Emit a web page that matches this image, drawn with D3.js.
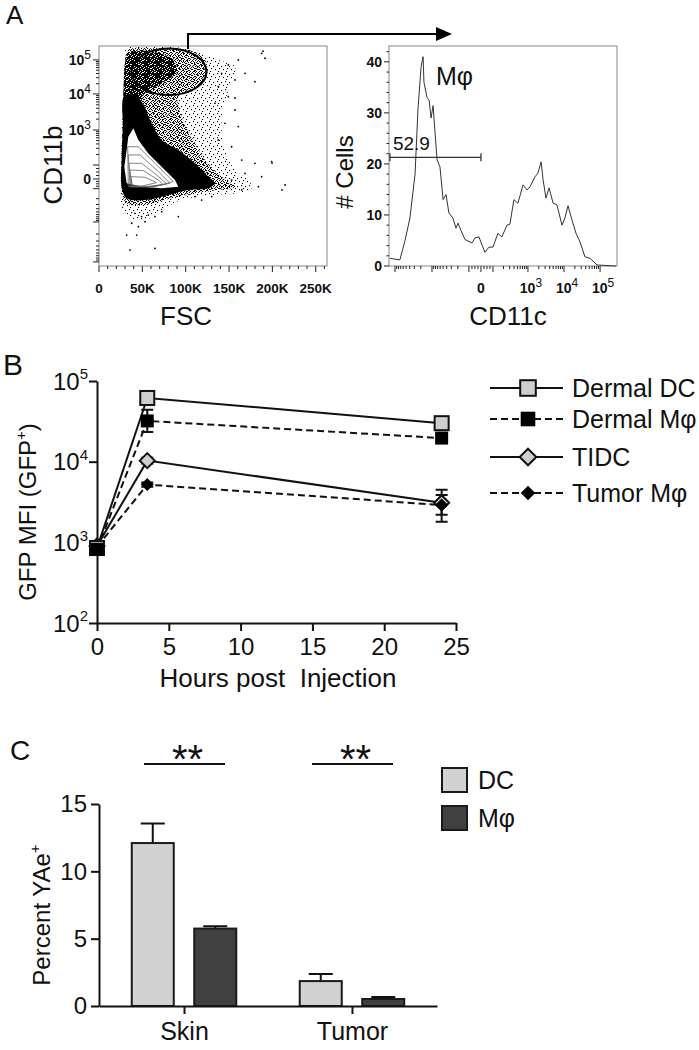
<!DOCTYPE html>
<html><head><meta charset="utf-8">
<script src="https://cdn.jsdelivr.net/npm/d3@7"></script>
<style>
body{margin:0;background:#fff}
svg{display:block}
text{font-family:"Liberation Sans",Arial,Helvetica,sans-serif;fill:#111}
</style>
</head><body>
<svg id="c" width="699" height="1050"></svg>
<script>
// ================= DATA =================
// Panel A (left): FSC (K) vs CD11b display channel (0-1024)
const fscTickValues = [0, 50, 100, 150, 200, 250];
const fscTickLabels = ["0", "50K", "100K", "150K", "200K", "250K"];
const cd11bDecades = [[-4, 19], [-3, 205], [-2, 360], [0, 405], [2, 470], [3, 633], [4, 801], [5, 959]];
const cd11bLabels = [{ch: 405, base: "0"}, {ch: 633, base: "10", exp: "3"}, {ch: 801, base: "10", exp: "4"}, {ch: 959, base: "10", exp: "5"}];
const scatterSparse = [[31.9,1013],[72.3,1021],[110.7,1005],[137.6,959],[156.9,928],[149.2,819],[141.5,695],[145.3,540],[156.9,447],[172.3,400],[176.1,362],[156.9,338],[130.0,331],[95.4,307],[72.3,261],[53.1,214],[33.8,230],[26.1,276],[24.2,400],[26.1,587],[28.1,819],[30.0,959]];
const scatterMedium = [[33.8,1005],[64.6,1013],[103.0,1005],[122.3,959],[124.2,881],[110.7,819],[91.5,788],[95.4,695],[106.9,602],[122.3,493],[141.5,416],[156.9,369],[137.6,354],[110.7,338],[83.8,315],[53.1,284],[31.9,292],[26.1,354],[26.1,509],[28.1,742],[30.0,928]];
const scatterDenseTop = [[33.8,990],[56.9,1000],[83.8,965],[90.0,905],[72.3,850],[52.0,800],[45.0,700],[36.0,640],[29.0,700],[28.5,850],[30.5,960]];
const scatterDense = [[29.0,790],[40.0,800],[50.0,760],[60.8,664],[72.3,587],[91.5,540],[110.7,478],[126.1,416],[133.8,385],[126.1,362],[103.0,354],[80.0,331],[53.1,307],[31.9,315],[26.1,369],[26.1,493],[27.5,649]];
const scatterHole = [[39.6,641],[45.4,587],[56.9,524],[72.3,462],[87.7,400],[91.5,369],[72.3,362],[49.2,369],[31.9,385],[29.2,462],[31.9,540],[33.8,602]];
const scatterContours = [
  [[33.1,555],[45.4,555],[64.6,478],[85.7,393],[64.6,369],[33.8,369]],
  [[33.8,517],[47.3,517],[66.5,447],[81.9,385],[60.8,369],[35.8,369]],
  [[34.6,478],[49.2,478],[66.5,424],[78.1,382],[56.9,369],[36.9,369]],
  [[35.8,447],[51.1,444],[68.4,400],[74.2,379],[53.1,369],[37.7,372]],
  [[36.9,416],[53.1,413],[66.5,388],[49.2,372],[38.5,376]]
];
const scatterOutliers = [[187.6,990],[191.5,967],[160.7,959],[149.2,936],[141.5,897],[156.9,866],[168.4,897],[179.9,858],[137.6,835],[149.2,788],[133.8,757],[156.9,726],[145.3,664],[160.7,649],[137.6,587],[153.0,555],[164.6,493],[179.9,478],[199.2,486],[187.6,416],[168.4,431],[153.0,400],[183.8,369],[164.6,354],[41.5,245],[49.2,230],[56.9,237],[64.6,230],[72.3,253],[91.5,230],[31.9,144],[43.5,144],[35.8,74],[64.6,82],[45.4,183],[53.1,206],[37.7,199],[110.7,323],[118.4,307],[130.0,323],[189.2,1000],[199.6,479],[214.6,377],[211.1,354],[156.9,782]];
const gateEllipse = {cx: 80.7, cy: 904, rx: 43.3, ry: 108.5};
const arrowFromFsc = 102.7;

// Panel A (right): CD11c histogram (channel 0-1024, count)
const histChannels = [4,49,72,94,117,130,144,153,157,171,180,189,198,207,216,229,243,256,269,287,301,310,323,341,373,386,404,418,431,449,467,489,507,530,543,561,579,602,620,633,656,669,683,692,705,719,737,754,777,790,804,822,840,858,880,903,934,1019];
const histCounts = [1.5,1.2,5,9.4,18,30.6,39,41,36,33,32.5,29,31.4,26,20.8,19.4,13,14,10.4,9.4,7.4,8.4,7,5.2,4.5,5.5,5.7,4.1,2.7,3.7,3.7,6.4,5.7,8,8.2,13,12.3,15.9,14.9,15.5,17.5,18.2,20.4,16.9,13.3,15.3,12.3,12,8,9.4,11.8,9,6.4,4.7,1.8,1.5,0.2,0];
const histYTicks = [0, 10, 20, 30, 40];
const cd11cDecades = [[-4, 27], [-3, 193], [-2, 359], [0, 413], [2, 467], [3, 624], [4, 786], [5, 948]];
const cd11cLabels = [{ch: 413, base: "0"}, {ch: 624, base: "10", exp: "3"}, {ch: 786, base: "10", exp: "4"}, {ch: 948, base: "10", exp: "5"}];
const histGate = {from: 4, to: 413, level: 21.3, label: "52.9"};

// Panel B: GFP MFI over time
const hours = [0, 3.5, 24];
const seriesNamesB = ["Dermal DC", "Dermal M\u03c6", "TIDC", "Tumor M\u03c6"];
const dermalDC = [850, 61600, 30000];
const dermalDCLo = [800, 58000, 28000];
const dermalDCHi = [900, 65000, 32000];
const dermalMphi = [820, 32000, 19600];
const dermalMphiLo = [780, 23300, 18000];
const dermalMphiHi = [860, 43900, 21500];
const tidc = [900, 10300, 3100];
const tidcLo = [850, 9500, 1800];
const tidcHi = [950, 11200, 4500];
const tumorMphi = [880, 5200, 2900];
const tumorMphiLo = [830, 4900, 2200];
const tumorMphiHi = [930, 5500, 3870];
const hoursTicks = [0, 5, 10, 15, 20, 25];
const mfiTicks = [100, 1000, 10000, 100000];
const mfiTickExps = ["2", "3", "4", "5"];

// Panel C: Percent YAe+
const tissues = ["Skin", "Tumor"];
const cellTypes = ["DC", "M\u03c6"];
const percentDC = [12.1, 1.85];
const percentDCsem = [1.45, 0.52];
const percentMphi = [5.75, 0.52];
const percentMphiSem = [0.18, 0.15];
const percentTicks = [0, 5, 10, 15];
const significance = ["**", "**"];

// ================= DRAW =================
const svg = d3.select("#c");
const defs = svg.append("defs");

function supText(sel, base, exp, size, expSize, bold) {
  sel.append("tspan").text(base).attr("font-weight", bold ? "bold" : null);
  if (exp) sel.append("tspan").text(exp).attr("font-size", expSize).attr("dy", -size * 0.42);
}

// ---------- Panel A left ----------
const xS = d3.scaleLinear().domain([0, 263]).range([99, 327]);
const yS = d3.scaleLinear().domain([0, 1024]).range([266, 46]);

function pattern(id, size, dots, r) {
  const p = defs.append("pattern").attr("id", id).attr("width", size).attr("height", size).attr("patternUnits", "userSpaceOnUse");
  dots.forEach(d => p.append("rect").attr("x", d[0]).attr("y", d[1]).attr("width", r).attr("height", r).attr("fill", "#000"));
}
pattern("sparse", 8, [[1,1],[5,2],[3,4],[7,5],[2,7]], 1.1);
pattern("medium", 6, [[0,0],[3,0],[1,1],[4,2],[2,2],[5,3],[0,3],[3,4],[1,5],[4,5],[2,4],[5,1]], 1.05);
pattern("dense", 4, [[0,0],[1,0],[2,1],[3,1],[0,2],[1,2],[3,2],[2,3],[3,3],[1,3],[0,1]], 1);

defs.append("clipPath").attr("id", "clipS").append("rect")
  .attr("x", xS(0)).attr("y", yS(1024)).attr("width", xS(263) - xS(0)).attr("height", yS(0) - yS(1024));

const gS = svg.append("g");
const cloud = d3.line().x(d => xS(d[0])).y(d => yS(d[1])).curve(d3.curveCatmullRomClosed.alpha(0.5));
const poly = d3.line().x(d => xS(d[0])).y(d => yS(d[1])).curve(d3.curveLinearClosed);
const gClip = gS.append("g").attr("clip-path", "url(#clipS)");
gClip.append("path").attr("d", cloud(scatterSparse)).attr("fill", "url(#sparse)");
gClip.append("path").attr("d", cloud(scatterMedium)).attr("fill", "url(#medium)");
gClip.append("path").attr("d", cloud(scatterDenseTop)).attr("fill", "url(#dense)");
gClip.append("path").attr("d", cloud(scatterDense)).attr("fill", "#000");
gClip.append("path").attr("d", poly(scatterHole)).attr("fill", "#fff");
scatterContours.forEach(c => gClip.append("path").attr("d", poly(c)).attr("fill", "none").attr("stroke", "#666").attr("stroke-width", 0.8));
gClip.selectAll("circle.o").data(scatterOutliers).join("circle").attr("class", "o")
  .attr("cx", d => xS(d[0])).attr("cy", d => yS(d[1])).attr("r", 0.9).attr("fill", "#000");
gS.append("ellipse").attr("cx", xS(gateEllipse.cx)).attr("cy", yS(gateEllipse.cy))
  .attr("rx", xS(gateEllipse.cx + gateEllipse.rx) - xS(gateEllipse.cx))
  .attr("ry", yS(gateEllipse.cy - gateEllipse.ry) - yS(gateEllipse.cy))
  .attr("fill", "none").attr("stroke", "#000").attr("stroke-width", 2);
gS.append("rect").attr("x", xS(0)).attr("y", yS(1024)).attr("width", xS(263) - xS(0)).attr("height", yS(0) - yS(1024))
  .attr("fill", "none").attr("stroke", "#888").attr("stroke-width", 1);

function biexTicks(anchors) {
  const minor = [];
  for (let i = 0; i < anchors.length - 1; i++) {
    const [k0, p0] = anchors[i], [k1, p1] = anchors[i + 1];
    if (k0 > 0 && k1 - k0 === 1) for (let m = 2; m <= 9; m++) minor.push(p0 + (p1 - p0) * Math.log10(m));
    if (k1 < 0 && k1 - k0 === 1) for (let m = 2; m <= 9; m++) minor.push(p1 + (p0 - p1) * Math.log10(m));
    if ((k0 === -2 && k1 === 0) || (k0 === 0 && k1 === 2)) for (let f = 0.25; f < 1; f += 0.25) minor.push(p0 + (p1 - p0) * f);
  }
  return {major: anchors.map(a => a[1]), minor};
}
// scatter y ticks
const tS = biexTicks(cd11bDecades);
tS.major.forEach(c => gS.append("line").attr("x1", xS(0) - 6).attr("x2", xS(0)).attr("y1", yS(c)).attr("y2", yS(c)).attr("stroke", "#222"));
tS.minor.forEach(c => gS.append("line").attr("x1", xS(0) - 3).attr("x2", xS(0)).attr("y1", yS(c)).attr("y2", yS(c)).attr("stroke", "#222"));
cd11bLabels.forEach(l => {
  const t = gS.append("text").attr("x", 91).attr("y", yS(l.ch) + 5).attr("text-anchor", "end").attr("font-size", 14);
  supText(t, l.base, l.exp, 14, 12, true);
});
// scatter x ticks
d3.range(0, 261, 10).forEach(v => gS.append("line").attr("x1", xS(v)).attr("x2", xS(v)).attr("y1", yS(0)).attr("y2", yS(0) + (v % 50 === 0 ? 6 : 3)).attr("stroke", "#222"));
fscTickValues.forEach((v, i) => gS.append("text").attr("x", xS(v)).attr("y", 293).attr("text-anchor", "middle")
  .attr("font-size", 13.5).attr("font-weight", "bold").text(fscTickLabels[i]));
gS.append("text").attr("x", 186).attr("y", 325).attr("text-anchor", "middle").attr("font-size", 26).text("FSC");
gS.append("text").attr("transform", "translate(62,165) rotate(-90)").attr("text-anchor", "middle").attr("font-size", 26).text("CD11b");

// arrow
const ax = xS(arrowFromFsc);
svg.append("path").attr("d", `M${ax},${yS(gateEllipse.cy + gateEllipse.ry) + 0.5}V34H437`).attr("fill", "none").attr("stroke", "#000").attr("stroke-width", 2);
svg.append("path").attr("d", "M436,27L452,34L436,41Z").attr("fill", "#000");

// ---------- Panel A right (histogram) ----------
const xH = d3.scaleLinear().domain([0, 1024]).range([389, 617]);
const yH = d3.scaleLinear().domain([0, 43.1]).range([266, 46]);
const gH = svg.append("g");
gH.append("rect").attr("x", xH(0)).attr("y", yH(43.1)).attr("width", xH(1024) - xH(0)).attr("height", yH(0) - yH(43.1))
  .attr("fill", "none").attr("stroke", "#888").attr("stroke-width", 1);
gH.append("path").datum(d3.zip(histChannels, histCounts))
  .attr("d", d3.line().x(d => xH(d[0])).y(d => yH(d[1])))
  .attr("fill", "none").attr("stroke", "#333").attr("stroke-width", 1);
d3.range(0, 43, 2).forEach(v => gH.append("line").attr("x1", xH(0) - (v % 10 === 0 ? 5 : 2.5)).attr("x2", xH(0)).attr("y1", yH(v)).attr("y2", yH(v)).attr("stroke", "#222"));
histYTicks.forEach(v => gH.append("text").attr("x", 382).attr("y", yH(v) + 5).attr("text-anchor", "end").attr("font-size", 14).attr("font-weight", "bold").text(v));
const tH = biexTicks(cd11cDecades);
tH.major.forEach(c => gH.append("line").attr("x1", xH(c)).attr("x2", xH(c)).attr("y1", yH(0)).attr("y2", yH(0) + 6).attr("stroke", "#222"));
tH.minor.forEach(c => gH.append("line").attr("x1", xH(c)).attr("x2", xH(c)).attr("y1", yH(0)).attr("y2", yH(0) + 3).attr("stroke", "#222"));
cd11cLabels.forEach(l => {
  const t = gH.append("text").attr("x", xH(l.ch) + (l.exp ? 3 : 0)).attr("y", 293).attr("text-anchor", "middle").attr("font-size", 14);
  supText(t, l.base, l.exp, 14, 12, true);
});
// gate
const gy = yH(histGate.level);
gH.append("path").attr("d", `M${xH(histGate.from)},${gy}H${xH(histGate.to)}M${xH(histGate.from)},${gy - 4}V${gy + 4}M${xH(histGate.to)},${gy - 4}V${gy + 4}`)
  .attr("stroke", "#333").attr("stroke-width", 1.3).attr("fill", "none");
gH.append("text").attr("x", xH(histGate.from) + 3).attr("y", gy - 7).attr("font-size", 19).text(histGate.label);
gH.append("text").attr("x", 436).attr("y", 85).attr("font-size", 25).text("M\u03c6");
gH.append("text").attr("transform", "translate(353,172) rotate(-90)").attr("text-anchor", "middle").attr("font-size", 24).text("# Cells");
gH.append("text").attr("x", 508).attr("y", 325).attr("text-anchor", "middle").attr("font-size", 26).text("CD11c");

// ---------- Panel B ----------
const xB = d3.scaleLinear().domain([0, 25]).range([97, 456]);
const yB = d3.scaleLog().domain([100, 100000]).range([623, 381]);
const gB = svg.append("g");
const yAxB = gB.append("g").attr("transform", `translate(${xB(0)},0)`)
  .call(d3.axisLeft(yB).tickValues(mfiTicks).tickSize(8).tickSizeOuter(0).tickFormat(""));
const xAxB = gB.append("g").attr("transform", `translate(0,${yB(100)})`)
  .call(d3.axisBottom(xB).tickValues(hoursTicks).tickSize(8).tickSizeOuter(0).tickPadding(7));
[yAxB, xAxB].forEach(a => { a.selectAll("path,line").attr("stroke", "#111").attr("stroke-width", 2); });
xAxB.selectAll("text").attr("font-size", 24).attr("fill", "#111").attr("font-family", null);
mfiTicks.forEach((v, i) => {
  const t = gB.append("text").attr("x", 88).attr("y", yB(v) + 8.5).attr("text-anchor", "end").attr("font-size", 24);
  supText(t, "10", mfiTickExps[i], 24, 15, false);
});
const yl = gB.append("text").attr("transform", "translate(36,512) rotate(-90)").attr("text-anchor", "middle").attr("font-size", 24);
yl.append("tspan").text("GFP MFI (GFP");
yl.append("tspan").text("+").attr("font-size", 15).attr("dy", -10);
yl.append("tspan").text(")").attr("dy", 10);
gB.append("text").attr("x", 278).attr("y", 687).attr("text-anchor", "middle").attr("font-size", 26).text("Hours post  Injection").style("white-space", "pre");

const seriesB = [
  {name: seriesNamesB[2], v: tidc, lo: tidcLo, hi: tidcHi, dash: null, shape: "diamond", fill: "#cfcfcf", s: 7.5},
  {name: seriesNamesB[3], v: tumorMphi, lo: tumorMphiLo, hi: tumorMphiHi, dash: "7,4", shape: "diamond", fill: "#000", s: 6.5},
  {name: seriesNamesB[0], v: dermalDC, lo: dermalDCLo, hi: dermalDCHi, dash: null, shape: "square", fill: "#cfcfcf", s: 7},
  {name: seriesNamesB[1], v: dermalMphi, lo: dermalMphiLo, hi: dermalMphiHi, dash: "7,4", shape: "square", fill: "#000", s: 6.5}
];
function marker(g, shape, fill, s, x, y) {
  if (shape === "square") {
    g.append("rect").attr("x", x - s).attr("y", y - s).attr("width", 2 * s).attr("height", 2 * s)
      .attr("fill", fill).attr("stroke", "#111").attr("stroke-width", fill === "#000" ? 0 : 2);
  } else {
    g.append("path").attr("d", `M${x},${y - s}L${x + s},${y}L${x},${y + s}L${x - s},${y}Z`)
      .attr("fill", fill).attr("stroke", "#111").attr("stroke-width", fill === "#000" ? 0 : 2);
  }
}
const lineB = d3.line().x((d, i) => xB(hours[i])).y(d => yB(d));
seriesB.forEach(sr => {
  gB.append("path").attr("d", lineB(sr.v)).attr("fill", "none").attr("stroke", "#111").attr("stroke-width", 2)
    .attr("stroke-dasharray", sr.dash);
  hours.forEach((h, i) => {
    const x = xB(h);
    gB.append("path").attr("d", `M${x},${yB(sr.lo[i])}V${yB(sr.hi[i])}M${x - 6},${yB(sr.lo[i])}H${x + 6}M${x - 6},${yB(sr.hi[i])}H${x + 6}`)
      .attr("stroke", "#111").attr("stroke-width", 2).attr("fill", "none");
  });
});
seriesB.forEach(sr => hours.forEach((h, i) => marker(gB, sr.shape, sr.fill, sr.s, xB(h), yB(sr.v[i]))));
// legend B
const legOrder = [2, 3, 0, 1];
const legRowY = [388, 419, 457, 493];
legOrder.forEach((k, r) => {
  const sr = seriesB[k];
  const y = legRowY[r];
  gB.append("line").attr("x1", 490).attr("x2", 563).attr("y1", y).attr("y2", y).attr("stroke", "#111").attr("stroke-width", 2).attr("stroke-dasharray", sr.dash);
  marker(gB, sr.shape, sr.fill, sr.s + 0.8, 528, y);
  gB.append("text").attr("x", 572).attr("y", y + 9).attr("font-size", 25).text(sr.name);
});

// ---------- Panel C ----------
const xC = d3.scalePoint().domain(tissues).range([99, 437]).padding(0.506);
const sub = d3.scaleBand().domain(cellTypes).range([-52.25, 52.25]).paddingInner(0.328);
const yC = d3.scaleLinear().domain([0, 15]).range([1006, 804]);
const gC = svg.append("g");
const barsC = [];
tissues.forEach((t, i) => {
  barsC.push({t, type: cellTypes[0], v: percentDC[i], e: percentDCsem[i], fill: "#d2d2d2"});
  barsC.push({t, type: cellTypes[1], v: percentMphi[i], e: percentMphiSem[i], fill: "#404040"});
});
barsC.forEach(b => {
  const cx = xC(b.t) + sub(b.type) + sub.bandwidth() / 2;
  gC.append("path").attr("d", `M${cx},${yC(b.v)}V${yC(b.v + b.e)}M${cx - 12},${yC(b.v + b.e)}H${cx + 12}`)
    .attr("stroke", "#111").attr("stroke-width", 2).attr("fill", "none");
});
gC.selectAll("rect.bar").data(barsC).join("rect").attr("class", "bar")
  .attr("x", b => xC(b.t) + sub(b.type)).attr("width", sub.bandwidth())
  .attr("y", b => yC(b.v)).attr("height", b => yC(0) - yC(b.v))
  .attr("fill", b => b.fill).attr("stroke", "#1a1a1a").attr("stroke-width", 2);
const yAxC = gC.append("g").attr("transform", `translate(${99},0)`)
  .call(d3.axisLeft(yC).tickValues(percentTicks).tickSize(8).tickSizeOuter(0).tickPadding(4));
const xAxC = gC.append("g").attr("transform", `translate(0,${yC(0)})`)
  .call(d3.axisBottom(xC).tickSize(8).tickSizeOuter(0).tickPadding(8));
[yAxC, xAxC].forEach(a => { a.selectAll("path,line").attr("stroke", "#111").attr("stroke-width", 2); a.selectAll("text").attr("fill", "#111").attr("font-family", null); });
yAxC.selectAll("text").attr("font-size", 24);
xAxC.selectAll("text").attr("font-size", 25);
const ylc = gC.append("text").attr("transform", "translate(50,915) rotate(-90)").attr("text-anchor", "middle").attr("font-size", 24);
ylc.append("tspan").text("Percent YAe");
ylc.append("tspan").text("+").attr("font-size", 15).attr("dy", -10);
tissues.forEach((t, i) => {
  const c = xC(t) + 0.5;
  gC.append("line").attr("x1", c - 40.5).attr("x2", c + 40.5).attr("y1", 764).attr("y2", 764).attr("stroke", "#111").attr("stroke-width", 2);
  gC.append("text").attr("x", c + 3).attr("y", 773).attr("text-anchor", "middle").attr("font-size", 40).text(significance[i]);
});
cellTypes.forEach((ct, i) => {
  const y = 768 + i * 38;
  gC.append("rect").attr("x", 442).attr("y", y).attr("width", 25).attr("height", 24)
    .attr("fill", i === 0 ? "#d2d2d2" : "#404040").attr("stroke", "#1a1a1a").attr("stroke-width", 2);
  gC.append("text").attr("x", 478).attr("y", y + 21).attr("font-size", 25).text(ct);
});

// panel letters
svg.append("text").attr("x", 6).attr("y", 24).attr("font-size", 26).text("A");
svg.append("text").attr("x", 3).attr("y", 375).attr("font-size", 30).text("B");
svg.append("text").attr("x", 10).attr("y", 760).attr("font-size", 28).text("C");
</script>
</body></html>
